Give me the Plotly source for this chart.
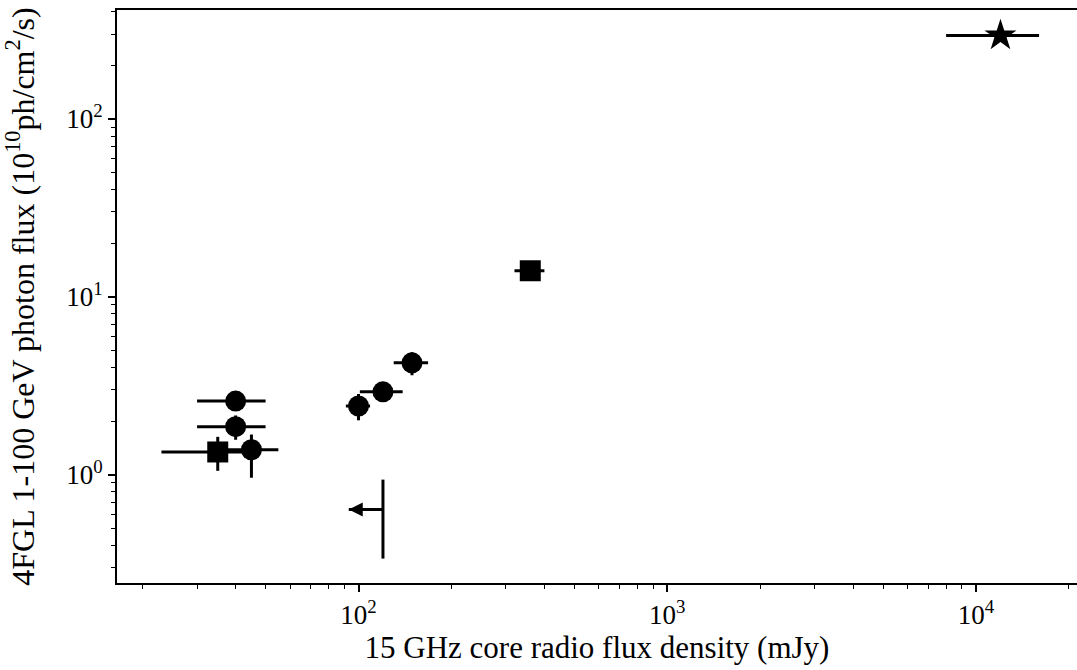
import plotly.graph_objects as go

# ---- data ----
circ_x = [40, 40, 45, 100, 120, 149]
circ_y = [2.59, 1.86, 1.38, 2.43, 2.92, 4.25]
circ_xerr = [10, 10, 10, 9, 19, 19]
circ_yerr_plus = [0.3, 0.29, 0.3, 0.41, 0.3, 0.63]
circ_yerr_minus = [0.3, 0.29, 0.42, 0.41, 0.3, 0.63]

sq_x = [35, 360]
sq_y = [1.34, 14.0]
sq_xerr = [12, 40]
sq_yerr = [0.29, 1.0]

star_x = [12000]
star_y = [294]
star_xerr = [4000]
star_yerr = [15]

ul_x = [120]
ul_y = [0.637]
ul_xerr = [27]
ul_yerr = [0.3]

x_tickvals = [100, 1000, 10000]
x_ticktext = ["10<sup>2</sup>", "10<sup>3</sup>", "10<sup>4</sup>"]
y_tickvals = [1, 10, 100]
y_ticktext = ["10<sup>0</sup>", "10<sup>1</sup>", "10<sup>2</sup>"]

FONT = "Liberation Serif"
BLACK = "black"
EW = 3

def errx(plus, minus=None):
    return dict(type="data", array=plus, arrayminus=minus if minus is not None else plus,
                color=BLACK, thickness=EW, width=0, symmetric=False)

fig = go.Figure()

fig.add_trace(go.Scatter(
    x=circ_x, y=circ_y, mode="markers",
    marker=dict(symbol="circle", size=21, color=BLACK),
    error_x=errx(circ_xerr), error_y=errx(circ_yerr_plus, circ_yerr_minus),
    showlegend=False))

fig.add_trace(go.Scatter(
    x=sq_x, y=sq_y, mode="markers",
    marker=dict(symbol="square", size=21, color=BLACK),
    error_x=errx(sq_xerr), error_y=errx(sq_yerr),
    showlegend=False))

fig.add_trace(go.Scatter(
    x=star_x, y=star_y, mode="markers",
    marker=dict(symbol="star", size=24, color=BLACK),
    error_x=errx(star_xerr), error_y=errx(star_yerr),
    showlegend=False))

# upper limit: horizontal arrow to the left, vertical error bar
fig.add_trace(go.Scatter(
    x=ul_x, y=ul_y, mode="markers",
    marker=dict(size=1, color="rgba(0,0,0,0)"),
    error_x=errx([0] * len(ul_x), ul_xerr), error_y=errx(ul_yerr),
    showlegend=False))
fig.add_trace(go.Scatter(
    x=[a - b for a, b in zip(ul_x, ul_xerr)], y=ul_y, mode="markers",
    marker=dict(symbol="arrow-left", size=14, color=BLACK),
    showlegend=False))

x_minor = [m * 10 ** k for k in range(1, 5) for m in range(2, 10)]
y_minor = [m * 10 ** k for k in range(-1, 3) for m in range(2, 10)]

fig.update_layout(
    template="none",
    width=1077, height=670,
    margin=dict(l=117, r=0, t=9.5, b=87, pad=0),
    paper_bgcolor="white", plot_bgcolor="white",
    font=dict(family=FONT, color=BLACK, size=26),
    xaxis=dict(
        type="log", range=[1.2178, 4.327], automargin=False,
        showline=True, linecolor=BLACK, linewidth=2, mirror=True,
        showgrid=False, zeroline=False,
        tickmode="array", tickvals=x_tickvals, ticktext=x_ticktext,
        ticks="outside", ticklen=7, tickwidth=1.5, tickcolor=BLACK,
        tickfont=dict(family=FONT, size=27),
        minor=dict(tickmode="array", tickvals=x_minor, ticks="outside",
                   ticklen=4, tickwidth=1.2, tickcolor=BLACK, showgrid=False),
        title=dict(text="15 GHz core radio flux density (mJy)",
                   font=dict(family=FONT, size=31), standoff=7),
    ),
    yaxis=dict(
        type="log", range=[-0.6096, 2.6124], automargin=False,
        showline=True, linecolor=BLACK, linewidth=2, mirror=False,
        showgrid=False, zeroline=False,
        tickmode="array", tickvals=y_tickvals, ticktext=y_ticktext,
        ticks="outside", ticklen=7, tickwidth=1.5, tickcolor=BLACK,
        tickfont=dict(family=FONT, size=27),
        minor=dict(tickmode="array", tickvals=y_minor, ticks="outside",
                   ticklen=4, tickwidth=1.2, tickcolor=BLACK, showgrid=False),
        title=dict(text="4FGL 1-100 GeV photon flux (10<sup>10</sup>ph/cm<sup>2</sup>/s)",
                   font=dict(family=FONT, size=32), standoff=22),
    ),
)

fig.write_html(
    "out.html",
    config={"displayModeBar": False},
    post_script="document.body.style.margin='0';document.body.style.overflow='hidden';",
)
